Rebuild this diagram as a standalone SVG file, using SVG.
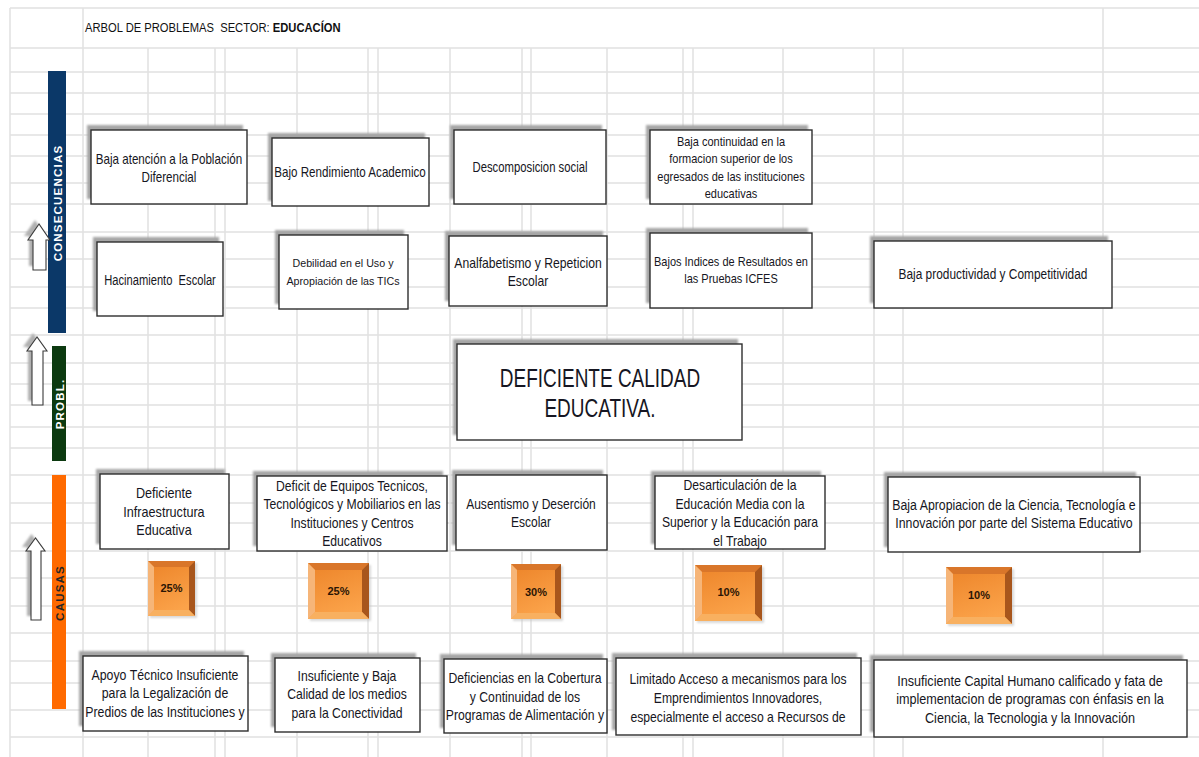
<svg xmlns="http://www.w3.org/2000/svg" width="1199" height="757" viewBox="0 0 1199 757">
<style>
.grid{stroke:#e1e1e1;stroke-width:1.5;fill:none}
.box{fill:#fff;stroke:#2e2e2e;stroke-width:1.4}
.shd{fill:#a6a6a6;filter:url(#blur)}
.t{font-family:"Liberation Sans",Arial,sans-serif;fill:#161622;text-anchor:middle}
.f13{font-size:14.5px}
.f12{font-size:12.5px}
.f11{font-size:11.5px}
.big{font-size:25px}
.pc{font-family:"Liberation Sans",Arial,sans-serif;font-weight:bold;font-size:11px;fill:#2a1505;text-anchor:middle}
.bar{font-family:"Liberation Sans",Arial,sans-serif;font-weight:bold;font-size:11.5px;fill:#fff;text-anchor:middle;letter-spacing:1.2px}
.arr{fill:#fff;stroke:#3a3a3a;stroke-width:1.1}
.arrs{fill:#b0b0b0;filter:url(#blur)}
.hdr{font-family:"Liberation Sans",Arial,sans-serif;font-size:13.5px;fill:#111}
</style>
<defs>
<filter id="blur" x="-20%" y="-20%" width="140%" height="140%"><feGaussianBlur stdDeviation="1.3"/></filter>
<linearGradient id="face" x1="0" y1="0" x2="0.4" y2="1">
<stop offset="0" stop-color="#ec8328"/>
<stop offset="1" stop-color="#fba34a"/>
</linearGradient>
</defs>
<rect width="1199" height="757" fill="#fff"/>
<g id="grid">
<path class="grid" d="M10 8H1199M10 48H1199M10 72H1199M10 93H1199M10 114H1199M10 135H1199M10 156H1199M10 183H1199M10 204H1199M10 232H1199M10 259H1199M10 287H1199M10 308H1199M10 335H1199M10 363H1199M10 384H1199M10 405H1199M10 427H1199M10 448H1199M10 475H1199M10 503H1199M10 523H1199M10 551H1199M10 578H1199M10 606H1199M10 633H1199M10 661H1199M10 683H1199M10 710H1199M10 737H1199"/>
<path class="grid" d="M10 8V757M83 8V757M1103 8V757M148 48V757M215 48V757M225 48V757M297 48V757M368 48V757M378 48V757M450 48V757M522 48V757M531 48V757M607 48V757M683 48V757M693 48V757M783 48V757M874 48V757M903 48V757"/>
</g>
<g id="header">
<text class="hdr" x="85" y="32" transform="translate(85 0) scale(0.83 1) translate(-85 0)" xml:space="preserve">ARBOL DE PROBLEMAS  SECTOR: <tspan font-weight="bold">EDUCACÍON</tspan></text>
</g>
<g id="side-bars">
<rect x="48" y="71" width="18" height="262" fill="#0b3868"/>
<text class="bar" transform="translate(62 203) rotate(-90)">CONSECUENCIAS</text>
<rect x="52" y="346" width="14" height="115" fill="#0c3a10"/>
<text class="bar" transform="translate(63.5 404) rotate(-90)">PROBL.</text>
<rect x="52" y="475" width="14" height="234" fill="#ff6a00"/>
<text class="bar" style="fill:#262626" transform="translate(63.5 593) rotate(-90)">CAUSAS</text>
</g>
<g id="arrows">
<g id="arrow-cons">
<polygon class="arrs" points="35,220 24,236 29,236 29,266 42,266 42,236 46,236"/>
<polygon class="arr" points="39,224 28,240 33,240 33,270 46,270 46,240 50,240"/>
</g>
<g id="arrow-probl">
<polygon class="arrs" points="33,333 23,347 28,347 28,401 39,401 39,347 43,347"/>
<polygon class="arr" points="37,337 27,351 32,351 32,405 43,405 43,351 47,351"/>
</g>
<g id="arrow-causas">
<polygon class="arrs" points="31.5,534 22,547 27,547 27,616 37,616 37,547 41,547"/>
<polygon class="arr" points="35.5,538 26,551 31,551 31,620 41,620 41,551 45,551"/>
</g>
</g>
<g id="connectors"></g>
<g id="cons1">
<rect class="shd" x="87" y="125" width="156" height="74"/>
<rect class="box" x="91" y="130" width="156" height="74"/>
<text class="t f13" transform="translate(169 0) scale(0.8 1) translate(-169 0)"><tspan x="169" y="164">Baja atención a la Población</tspan><tspan x="169" y="182">Diferencial</tspan></text>
</g>
<g id="cons2">
<rect class="shd" x="268" y="133" width="157" height="68"/>
<rect class="box" x="272" y="138" width="157" height="68"/>
<text class="t f13" x="350" y="177" transform="translate(350 0) scale(0.8 1) translate(-350 0)">Bajo Rendimiento Academico</text>
</g>
<g id="cons3">
<rect class="shd" x="450" y="125" width="152" height="74"/>
<rect class="box" x="454" y="130" width="152" height="74"/>
<text class="t f13" x="530" y="172" transform="translate(530 0) scale(0.78 1) translate(-530 0)">Descomposicion social</text>
</g>
<g id="cons4">
<rect class="shd" x="646" y="125" width="162" height="74"/>
<rect class="box" x="650" y="130" width="162" height="74"/>
<text class="t f12" transform="translate(731 0) scale(0.88 1) translate(-731 0)"><tspan x="731" y="146">Baja continuidad  en la</tspan><tspan x="731" y="163">formacion superior de los</tspan><tspan x="731" y="181">egresados de las instituciones</tspan><tspan x="731" y="198">educativas</tspan></text>
</g>
<g id="cons5">
<rect class="shd" x="93" y="237" width="126" height="74"/>
<rect class="box" x="97" y="242" width="126" height="74"/>
<text class="t f13" x="160" y="285" transform="translate(160 0) scale(0.77 1) translate(-160 0)" xml:space="preserve">Hacinamiento  Escolar</text>
</g>
<g id="cons6">
<rect class="shd" x="275" y="230" width="129" height="74"/>
<rect class="box" x="279" y="235" width="129" height="74"/>
<text class="t f11" transform="translate(343 0) scale(0.93 1) translate(-343 0)"><tspan x="343" y="267">Debilidad  en el Uso y</tspan><tspan x="343" y="285">Apropiación  de las TICs</tspan></text>
</g>
<g id="cons7">
<rect class="shd" x="445" y="231" width="158" height="70"/>
<rect class="box" x="449" y="236" width="158" height="70"/>
<text class="t f13" transform="translate(528 0) scale(0.84 1) translate(-528 0)"><tspan x="528" y="268">Analfabetismo y Repeticion</tspan><tspan x="528" y="286">Escolar</tspan></text>
</g>
<g id="cons8">
<rect class="shd" x="646" y="228" width="162" height="75"/>
<rect class="box" x="650" y="233" width="162" height="75"/>
<text class="t f12" transform="translate(731 0) scale(0.88 1) translate(-731 0)"><tspan x="731" y="266">Bajos Indices  de Resultados  en</tspan><tspan x="731" y="283">las Pruebas ICFES</tspan></text>
</g>
<g id="cons9">
<rect class="shd" x="870" y="236" width="238" height="67"/>
<rect class="box" x="874" y="241" width="238" height="67"/>
<text class="t f13" x="993" y="279" transform="translate(993 0) scale(0.82 1) translate(-993 0)">Baja productividad y Competitividad</text>
</g>
<g id="problem">
<rect class="shd" x="453" y="339" width="285" height="96"/>
<rect class="box" x="457" y="344" width="285" height="96"/>
<text class="t big" transform="translate(600 0) scale(0.76 1) translate(-600 0)"><tspan x="600" y="387">DEFICIENTE  CALIDAD</tspan><tspan x="600" y="417">EDUCATIVA.</tspan></text>
</g>
<g id="cause1">
<rect class="shd" x="96" y="469" width="129" height="75"/>
<rect class="box" x="100" y="474" width="129" height="75"/>
<text class="t f13" transform="translate(164 0) scale(0.87 1) translate(-164 0)"><tspan x="164" y="498">Deficiente</tspan><tspan x="164" y="517">Infraestructura</tspan><tspan x="164" y="535">Educativa</tspan></text>
</g>
<g id="cause2">
<rect class="shd" x="253" y="471" width="190" height="75"/>
<rect class="box" x="257" y="476" width="190" height="75"/>
<text class="t f13" transform="translate(352 0) scale(0.84 1) translate(-352 0)"><tspan x="352" y="491">Deficit  de Equipos  Tecnicos,</tspan><tspan x="352" y="509">Tecnológicos y Mobiliarios  en las</tspan><tspan x="352" y="528">Instituciones  y Centros</tspan><tspan x="352" y="546">Educativos</tspan></text>
</g>
<g id="cause3">
<rect class="shd" x="452" y="470" width="151" height="75"/>
<rect class="box" x="456" y="475" width="151" height="75"/>
<text class="t f13" transform="translate(531 0) scale(0.83 1) translate(-531 0)"><tspan x="531" y="509">Ausentismo y Deserción</tspan><tspan x="531" y="527">Escolar</tspan></text>
</g>
<g id="cause4">
<rect class="shd" x="651" y="471" width="170" height="73"/>
<rect class="box" x="655" y="476" width="170" height="73"/>
<text class="t f13" transform="translate(740 0) scale(0.84 1) translate(-740 0)"><tspan x="740" y="490">Desarticulación  de la</tspan><tspan x="740" y="509">Educación  Media con la</tspan><tspan x="740" y="527">Superior  y la Educación  para</tspan><tspan x="740" y="546">el Trabajo</tspan></text>
</g>
<g id="cause5">
<rect class="shd" x="884" y="472" width="252" height="75"/>
<rect class="box" x="888" y="477" width="252" height="75"/>
<text class="t f13" transform="translate(1014 0) scale(0.85 1) translate(-1014 0)"><tspan x="1014" y="510">Baja Apropiacion  de la Ciencia, Tecnología  e</tspan><tspan x="1014" y="528">Innovación  por parte del Sistema Educativo</tspan></text>
</g>
<g id="pct1">
<rect x="150" y="563" width="47" height="55" fill="#c0c0c0" filter="url(#blur)" opacity="0.6"/>
<rect x="148" y="561" width="47" height="55" fill="url(#face)"/>
<polygon points="148,561 195,561 189,567 154,567" fill="#d9762a"/>
<polygon points="195,561 195,616 189,610 189,567" fill="#a8561c"/>
<polygon points="148,616 195,616 189,610 154,610" fill="#f8b060"/>
<polygon points="148,561 154,567 154,610 148,616" fill="#f6b578"/>
<text class="pc" x="171.5" y="592">25%</text>
</g>
<g id="pct2">
<rect x="310" y="565" width="61" height="56" fill="#c0c0c0" filter="url(#blur)" opacity="0.6"/>
<rect x="308" y="563" width="61" height="56" fill="url(#face)"/>
<polygon points="308,563 369,563 362,570 315,570" fill="#d9762a"/>
<polygon points="369,563 369,619 362,612 362,570" fill="#a8561c"/>
<polygon points="308,619 369,619 362,612 315,612" fill="#f8b060"/>
<polygon points="308,563 315,570 315,612 308,619" fill="#f6b578"/>
<text class="pc" x="338.5" y="595">25%</text>
</g>
<g id="pct3">
<rect x="513" y="566" width="50" height="55" fill="#c0c0c0" filter="url(#blur)" opacity="0.6"/>
<rect x="511" y="564" width="50" height="55" fill="url(#face)"/>
<polygon points="511,564 561,564 555,570 517,570" fill="#d9762a"/>
<polygon points="561,564 561,619 555,613 555,570" fill="#a8561c"/>
<polygon points="511,619 561,619 555,613 517,613" fill="#f8b060"/>
<polygon points="511,564 517,570 517,613 511,619" fill="#f6b578"/>
<text class="pc" x="536" y="596">30%</text>
</g>
<g id="pct4">
<rect x="697" y="567" width="67" height="56" fill="#c0c0c0" filter="url(#blur)" opacity="0.6"/>
<rect x="695" y="565" width="67" height="56" fill="url(#face)"/>
<polygon points="695,565 762,565 755,572 702,572" fill="#d9762a"/>
<polygon points="762,565 762,621 755,614 755,572" fill="#a8561c"/>
<polygon points="695,621 762,621 755,614 702,614" fill="#f8b060"/>
<polygon points="695,565 702,572 702,614 695,621" fill="#f6b578"/>
<text class="pc" x="728.5" y="596">10%</text>
</g>
<g id="pct5">
<rect x="948" y="569" width="66" height="57" fill="#c0c0c0" filter="url(#blur)" opacity="0.6"/>
<rect x="946" y="567" width="66" height="57" fill="url(#face)"/>
<polygon points="946,567 1012,567 1005,574 953,574" fill="#d9762a"/>
<polygon points="1012,567 1012,624 1005,617 1005,574" fill="#a8561c"/>
<polygon points="946,624 1012,624 1005,617 953,617" fill="#f8b060"/>
<polygon points="946,567 953,574 953,617 946,624" fill="#f6b578"/>
<text class="pc" x="979" y="599">10%</text>
</g>
<g id="root1">
<rect class="shd" x="79" y="651" width="165" height="75"/>
<rect class="box" x="83" y="656" width="165" height="75"/>
<text class="t f13" transform="translate(165 0) scale(0.85 1) translate(-165 0)"><tspan x="165" y="680">Apoyo Técnico Insuficiente</tspan><tspan x="165" y="698">para la  Legalización  de</tspan><tspan x="165" y="717">Predios de las Instituciones y</tspan></text>
</g>
<g id="root2">
<rect class="shd" x="271" y="653" width="145" height="74"/>
<rect class="box" x="275" y="658" width="145" height="74"/>
<text class="t f13" transform="translate(347 0) scale(0.84 1) translate(-347 0)"><tspan x="347" y="681">Insuficiente  y Baja</tspan><tspan x="347" y="699">Calidad  de los  medios</tspan><tspan x="347" y="718">para la  Conectividad</tspan></text>
</g>
<g id="root3">
<rect class="shd" x="440" y="654" width="163" height="74"/>
<rect class="box" x="444" y="659" width="163" height="74"/>
<text class="t f13" transform="translate(525 0) scale(0.84 1) translate(-525 0)"><tspan x="525" y="683">Deficiencias  en la  Cobertura</tspan><tspan x="525" y="702">y Continuidad   de los</tspan><tspan x="525" y="720">Programas de Alimentación  y</tspan></text>
</g>
<g id="root4">
<rect class="shd" x="612" y="653" width="245" height="77"/>
<rect class="box" x="616" y="658" width="245" height="77"/>
<text class="t f13" transform="translate(738 0) scale(0.84 1) translate(-738 0)"><tspan x="738" y="684">Limitado  Acceso a mecanismos para los</tspan><tspan x="738" y="703">Emprendimientos  Innovadores,</tspan><tspan x="738" y="722">especialmente  el acceso a Recursos de</tspan></text>
</g>
<g id="root5">
<rect class="shd" x="870" y="655" width="313" height="77"/>
<rect class="box" x="874" y="660" width="313" height="77"/>
<text class="t f13" transform="translate(1030 0) scale(0.87 1) translate(-1030 0)"><tspan x="1030" y="686">Insuficiente  Capital Humano calificado  y fata de</tspan><tspan x="1030" y="704">implementacion  de programas con  énfasis en la</tspan><tspan x="1030" y="723">Ciencia,  la  Tecnologia y la Innovación</tspan></text>
</g>
</svg>
